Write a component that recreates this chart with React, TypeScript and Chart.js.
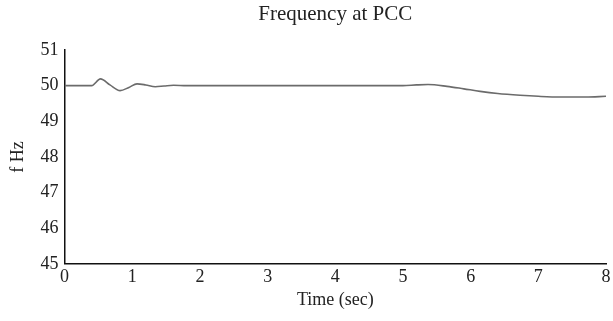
import React, { useEffect, useRef } from "react";
import { Chart, registerables } from "chart.js";

Chart.register(...registerables);

const times = [0, 0.4, 0.53, 0.67, 0.82, 0.95, 1.07, 1.2, 1.34, 1.47, 1.61, 1.8, 2.0, 3.0, 4.0, 5.0, 5.2, 5.37, 5.65, 5.9, 6.14, 6.4, 6.73, 7.0, 7.32, 7.7, 8.0];
const freq = [50, 50, 50.19, 50.02, 49.86, 49.95, 50.05, 50.02, 49.97, 49.99, 50.01, 50.0, 50.0, 50.0, 50.0, 50.0, 50.02, 50.03, 49.98, 49.91, 49.84, 49.78, 49.73, 49.7, 49.68, 49.68, 49.7];
const xTicks = [0, 1, 2, 3, 4, 5, 6, 7, 8];
const yTicks = [45, 46, 47, 48, 49, 50, 51];
const titleText = "Frequency at PCC";
const xTitle = "Time (sec)";
const yTitle = "f Hz";

const FONT = "'Liberation Serif', 'DejaVu Serif', serif";

const areaTitle = {
  id: "areaTitle",
  afterDraw(chart: any) {
    const { ctx, chartArea } = chart;
    ctx.save();
    ctx.font = `21px ${FONT}`;
    ctx.fillStyle = "#222";
    ctx.textAlign = "center";
    ctx.textBaseline = "middle";
    ctx.fillText(titleText, (chartArea.left + chartArea.right) / 2, 14);
    ctx.restore();
  },
};

export default function App() {
  const ref = useRef<HTMLCanvasElement | null>(null);
  useEffect(() => {
    if (!ref.current) return;
    const chart = new Chart(ref.current, {
      type: "line",
      data: {
        datasets: [
          {
            data: times.map((t, i) => ({ x: t, y: freq[i] })),
            borderColor: "#6b6b6b",
            borderWidth: 1.6,
            pointRadius: 0,
            tension: 0.4,
            cubicInterpolationMode: "monotone",
            fill: false,
          },
        ],
      },
      plugins: [areaTitle],
      options: {
        animation: false,
        responsive: true,
        maintainAspectRatio: false,
        layout: { padding: { top: 50, right: 7, left: 7, bottom: 10 } },
        plugins: {
          legend: { display: false },
          tooltip: { enabled: false },
          title: { display: false },
        },
        scales: {
          x: {
            type: "linear",
            min: xTicks[0],
            max: xTicks[xTicks.length - 1],
            afterBuildTicks: (s: any) => {
              s.ticks = xTicks.map((v) => ({ value: v }));
            },
            grid: { display: false },
            border: { display: true, color: "#111", width: 1.5 },
            ticks: {
              color: "#222",
              font: { family: FONT, size: 18 },
              padding: -5,
              maxRotation: 0,
            },
            title: {
              display: true,
              text: xTitle,
              color: "#222",
              font: { family: FONT, size: 18 },
              padding: { top: 6, bottom: 0 },
            },
          },
          y: {
            type: "linear",
            min: yTicks[0],
            max: yTicks[yTicks.length - 1],
            afterBuildTicks: (s: any) => {
              s.ticks = yTicks.map((v) => ({ value: v }));
            },
            grid: { display: false },
            border: { display: true, color: "#111", width: 1.5 },
            ticks: {
              color: "#222",
              font: { family: FONT, size: 18 },
              padding: -2,
            },
            title: {
              display: true,
              text: yTitle,
              color: "#222",
              font: { family: FONT, size: 18 },
              padding: { top: 0, bottom: 14 },
            },
          },
        },
      },
    } as any);
    return () => chart.destroy();
  }, []);
  return (
    <div style={{ position: "absolute", left: 0, top: 0, width: 613, height: 321, background: "#fff" }}>
      <canvas ref={ref} />
    </div>
  );
}
